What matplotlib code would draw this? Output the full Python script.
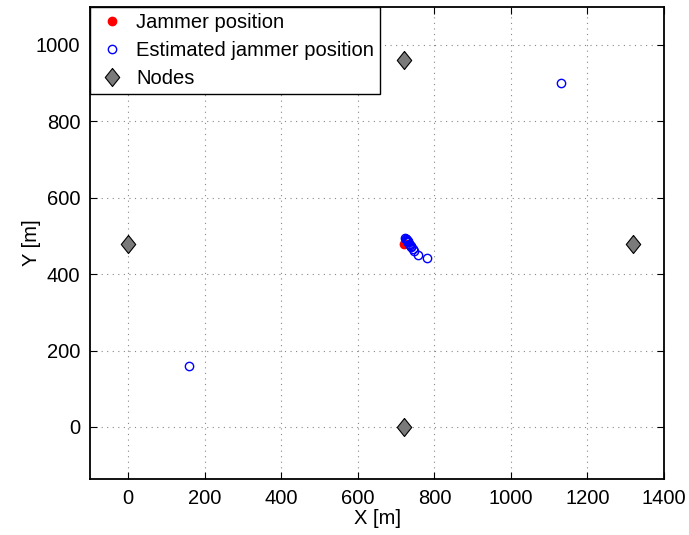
import matplotlib

matplotlib.use("Agg")
import matplotlib.pyplot as plt

# Positions in metres
JAMMER_X = [720]
JAMMER_Y = [480]

EST_X = [160, 1130, 724, 725, 726, 727, 728, 729, 730, 731, 732, 734, 736, 738, 740, 743, 747, 757, 780]
EST_Y = [160, 900, 494, 493, 492, 491, 489, 488, 486, 485, 483, 480, 477, 474, 471, 467, 461, 450, 443]

NODE_X = [0, 720, 720, 1320]
NODE_Y = [480, 0, 960, 480]

XTICKS = [0, 200, 400, 600, 800, 1000, 1200, 1400]
YTICKS = [0, 200, 400, 600, 800, 1000]

# slightly narrow diamond, like MATLAB's 'd'
DIAMOND = [(0, 1), (0.8, 0), (0, -1), (-0.8, 0), (0, 1)]


def main():
    plt.rcParams.update({"font.family": ["Liberation Sans", "DejaVu Sans"], "font.size": 14.5})
    fig = plt.figure(figsize=(6.89, 5.35), dpi=100)
    ax = fig.add_axes([90 / 689, (535 - 479.3) / 535, 574 / 689, 472.6 / 535])

    ax.plot(JAMMER_X, JAMMER_Y, "o", color="red", markersize=6, label="Jammer position", zorder=3)
    ax.plot(EST_X, EST_Y, "o", mfc="none", mec="blue", markersize=6, mew=1.0,
            label="Estimated jammer position", zorder=4)
    ax.plot(NODE_X, NODE_Y, marker=DIAMOND, ls="none", color="#7a7a7a", mec="black",
            mew=0.8, markersize=13, label="Nodes", zorder=3)

    ax.set_xlim(-100, 1400)
    ax.set_ylim(-137, 1100)
    ax.set_xticks(XTICKS)
    ax.set_yticks(YTICKS)
    ax.tick_params(direction="in", length=5, width=0.8, top=True, right=True, pad=7)
    ax.grid(True, linestyle=(0, (1, 4)), color="#888888", lw=0.8)
    ax.set_axisbelow(True)
    for s in ax.spines.values():
        s.set_linewidth(1.3)

    ax.set_xlabel("X [m]", labelpad=1)
    ax.set_ylabel("Y [m]", labelpad=-4)

    leg = ax.legend(loc="upper left", fancybox=False, framealpha=1, edgecolor="black",
                    borderaxespad=0, handletextpad=0.4, borderpad=0.3, labelspacing=0.45,
                    handlelength=1.6)
    leg.get_frame().set_linewidth(1.0)

    fig.savefig("out.png", dpi=100)


if __name__ == "__main__":
    main()
